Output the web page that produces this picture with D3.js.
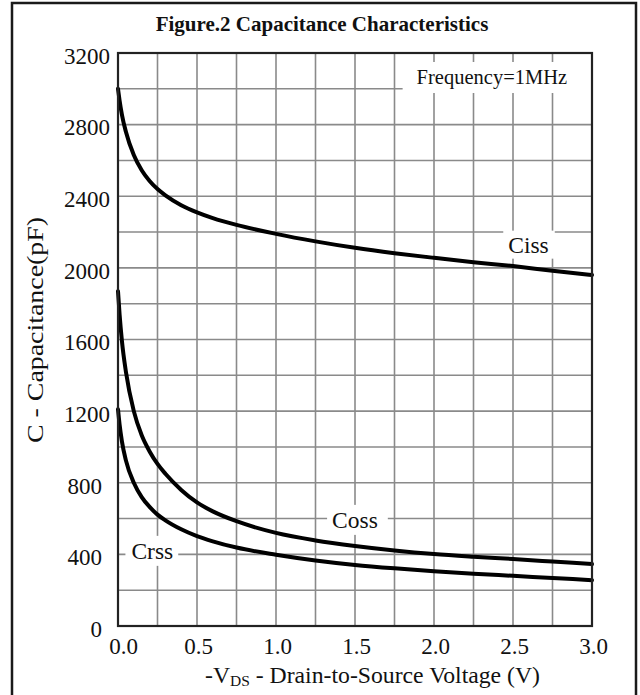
<!DOCTYPE html>
<html>
<head>
<meta charset="utf-8">
<script src="https://cdn.jsdelivr.net/npm/d3@7"></script>
<style>
  html, body { margin: 0; padding: 0; background: #fff; }
  svg { display: block; }
  text { font-family: "Liberation Serif", "Times New Roman", serif; fill: #111; }
</style>
</head>
<body>
<svg id="chart" width="640" height="695"></svg>
<script>
// ---- data ----
const voltage = [0, 0.01, 0.025, 0.05, 0.1, 0.15, 0.2, 0.25, 0.3, 0.4, 0.5, 0.6, 0.75, 1.0, 1.25, 1.5, 1.75, 2.0, 2.25, 2.5, 2.75, 3.0];
const ciss = [3000, 2935, 2855, 2760, 2630, 2545, 2485, 2440, 2405, 2350, 2310, 2278, 2240, 2190, 2148, 2112, 2082, 2056, 2032, 2010, 1984, 1960];
const coss = [1870, 1740, 1590, 1420, 1200, 1065, 975, 905, 850, 760, 690, 640, 585, 520, 478, 447, 422, 402, 387, 374, 360, 346];
const crss = [1210, 1125, 1030, 925, 800, 720, 665, 622, 590, 540, 502, 473, 438, 398, 366, 341, 322, 306, 292, 280, 268, 256];
const xTicks = [0, 0.5, 1.0, 1.5, 2.0, 2.5, 3.0];
const xGrid = [0.25, 0.5, 0.75, 1.0, 1.25, 1.5, 1.75, 2.0, 2.25, 2.5, 2.75];
const yTicks = [0, 400, 800, 1200, 1600, 2000, 2400, 2800, 3200];
const yGrid = [200, 400, 600, 800, 1000, 1200, 1400, 1600, 1800, 2000, 2200, 2400, 2600, 2800, 3000];
const title = "Figure.2 Capacitance Characteristics";
const yTitle = "C - Capacitance(pF)";
const freqLabel = "Frequency=1MHz";

// ---- layout ----
const svg = d3.select("#chart");
const x = d3.scaleLinear().domain([0, 3]).range([118, 592]);
const y = d3.scaleLinear().domain([0, 3200]).range([626, 53]);
const serif = "Liberation Serif, Times New Roman, serif";

svg.append("rect").attr("x", 0).attr("y", 0).attr("width", 640).attr("height", 695).attr("fill", "#fff");
// outer frame
svg.append("rect").attr("x", 12).attr("y", 3).attr("width", 624).attr("height", 700)
  .attr("fill", "none").attr("stroke", "#1a1a1a").attr("stroke-width", 2.5);

// title
svg.append("text").attr("x", 322).attr("y", 31).attr("text-anchor", "middle")
  .attr("font-size", 21).attr("font-weight", "bold").text(title);

// grid
const grid = svg.append("g").attr("stroke", "#8a8a8a").attr("stroke-width", 1.6);
grid.selectAll("line.v").data(xGrid).join("line").attr("class", "v")
  .attr("x1", d => x(d)).attr("x2", d => x(d)).attr("y1", y(3200)).attr("y2", y(0));
grid.selectAll("line.h").data(yGrid).join("line").attr("class", "h")
  .attr("x1", x(0)).attr("x2", x(3)).attr("y1", d => y(d)).attr("y2", d => y(d));

// label helper with white box
function boxedLabel(tx, ty, str, size, padL, padR, padT, padB) {
  const g = svg.append("g");
  const r = g.append("rect").attr("fill", "#fff");
  const t = g.append("text").attr("x", tx).attr("y", ty).attr("font-size", size).text(str);
  const b = t.node().getBBox();
  r.attr("x", b.x - padL).attr("y", b.y - padT).attr("width", b.width + padL + padR).attr("height", b.height + padT + padB);
  return g;
}
boxedLabel(x(1.89), 84, freqLabel, 20.5, 14, 30, 4, 4);

// curves
const line = d3.line().x(d => x(d[0])).y(d => y(d[1])).curve(d3.curveMonotoneX);
const series = [ciss, coss, crss];
svg.append("g").selectAll("path").data(series).join("path")
  .attr("d", s => line(voltage.map((v, i) => [v, s[i]])))
  .attr("fill", "none").attr("stroke", "#000").attr("stroke-width", 4)
  .attr("stroke-linejoin", "round").attr("stroke-linecap", "round");

// curve labels
boxedLabel(x(2.47), y(2085), "Ciss", 23.5, 5, 6, 1, 1);
boxedLabel(x(1.355), y(548), "Coss", 23.5, 5, 10, 2, 2);
boxedLabel(x(0.085), y(375), "Crss", 23.5, 6, 5, 2, 2);

// plot frame
svg.append("rect").attr("x", x(0)).attr("y", y(3200)).attr("width", x(3) - x(0)).attr("height", y(0) - y(3200))
  .attr("fill", "none").attr("stroke", "#222").attr("stroke-width", 2.2);

// axes labels
const xAxis = d3.axisBottom(x).tickValues(xTicks).tickFormat(d3.format(".1f")).tickSize(0).tickPadding(12);
const gx = svg.append("g").attr("transform", `translate(0,${y(0)})`).call(xAxis);
gx.select(".domain").remove();
gx.selectAll("text").attr("font-size", 23).attr("font-family", serif).attr("fill", "#111")
  .attr("dx", d => d === 0 ? 5 : 1);

const yAxis = d3.axisLeft(y).tickValues(yTicks).tickFormat(d3.format("d")).tickSize(0).tickPadding(8);
const gy = svg.append("g").attr("transform", `translate(${x(0)},0)`).call(yAxis);
gy.select(".domain").remove();
gy.selectAll("text").attr("font-size", 23).attr("font-family", serif).attr("fill", "#111").attr("dy", "0.45em")
  .attr("dx", d => String(d).length < 4 ? -8 : 0);

// axis titles
const xt = svg.append("text").attr("x", 205).attr("y", 683).attr("font-size", 23)
  .attr("textLength", 335).attr("lengthAdjust", "spacingAndGlyphs");
xt.append("tspan").text("-V");
xt.append("tspan").attr("font-size", 15).attr("dy", 3).text("DS");
xt.append("tspan").attr("dy", -3).text(" - Drain-to-Source Voltage (V)");

svg.append("text").attr("transform", "translate(43,330) rotate(-90)").attr("text-anchor", "middle")
  .attr("font-size", 23).attr("textLength", 226).attr("lengthAdjust", "spacingAndGlyphs").text(yTitle);
</script>
</body>
</html>
